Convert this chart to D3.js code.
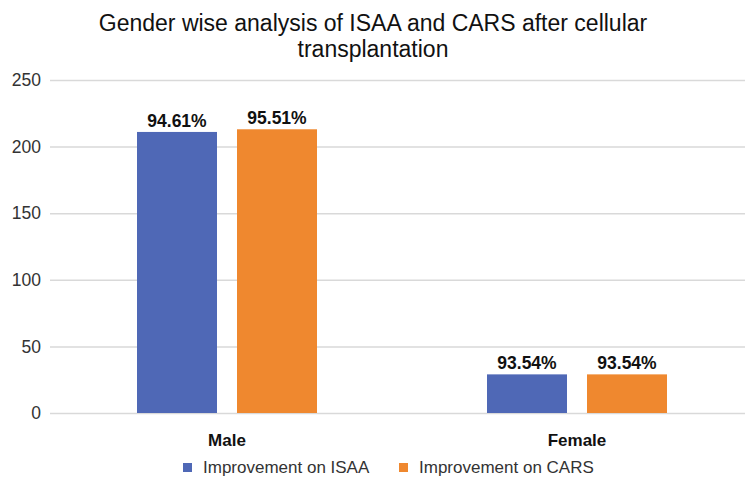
<!DOCTYPE html>
<html>
<head>
<meta charset="utf-8">
<script src="https://cdn.jsdelivr.net/npm/d3@7"></script>
<style>
  body { margin: 0; background: #fff; }
  text { font-family: "Liberation Sans", Arial, sans-serif; }
</style>
</head>
<body>
<svg width="745" height="487"></svg>
<script>
const categories = ["Male", "Female"];
const seriesNames = ["Improvement on ISAA", "Improvement on CARS"];
const isaaValues = [211, 29];
const carsValues = [213, 29];
const isaaLabels = ["94.61%", "93.54%"];
const carsLabels = ["95.51%", "93.54%"];
const yTicks = [0, 50, 100, 150, 200, 250];

const svg = d3.select("svg");
const width = +svg.attr("width");
const height = +svg.attr("height");

const colors = ["#4f68b6", "#ef882f"];

const data = categories.map((c, i) => ({
  category: c,
  values: [
    { key: seriesNames[0], value: isaaValues[i], label: isaaLabels[i] },
    { key: seriesNames[1], value: carsValues[i], label: carsLabels[i] }
  ]
}));

const yScale = d3.scaleLinear().domain([0, 250]).range([413, 80]);

const xScale = d3.scaleBand()
  .domain(categories)
  .range([52, 752]);

const xInner = d3.scaleBand()
  .domain(seriesNames)
  .range([0, xScale.bandwidth()])
  .paddingInner(0.2)
  .paddingOuter(0.85);

const colorScale = d3.scaleOrdinal().domain(seriesNames).range(colors);

// title
svg.append("text")
  .attr("x", 373)
  .attr("y", 31)
  .attr("text-anchor", "middle")
  .attr("font-size", 23)
  .attr("fill", "#111")
  .text("Gender wise analysis of ISAA and CARS after cellular");
svg.append("text")
  .attr("x", 373)
  .attr("y", 57)
  .attr("text-anchor", "middle")
  .attr("font-size", 23)
  .attr("fill", "#111")
  .text("transplantation");

// y axis with gridlines
const yAxis = d3.axisLeft(yScale)
  .tickValues(yTicks)
  .tickSize(-(745 - 50))
  .tickPadding(9);

const yAxisG = svg.append("g")
  .attr("transform", "translate(50,0)")
  .call(yAxis);
yAxisG.select(".domain").remove();
yAxisG.selectAll(".tick line").attr("stroke", "#d9d9d9").attr("stroke-width", 1.5);
yAxisG.selectAll(".tick text")
  .attr("font-size", 17.5)
  .attr("fill", "#333")
  .attr("font-family", "Liberation Sans, Arial, sans-serif");

// bars
const groups = svg.selectAll(".group")
  .data(data)
  .enter()
  .append("g")
  .attr("class", "group")
  .attr("transform", d => `translate(${xScale(d.category)},0)`);

groups.selectAll("rect")
  .data(d => d.values)
  .enter()
  .append("rect")
  .attr("x", d => xInner(d.key))
  .attr("y", d => yScale(d.value))
  .attr("width", xInner.bandwidth())
  .attr("height", d => yScale(0) - yScale(d.value))
  .attr("fill", d => colorScale(d.key));

groups.selectAll(".bar-label")
  .data(d => d.values)
  .enter()
  .append("text")
  .attr("class", "bar-label")
  .attr("x", d => xInner(d.key) + xInner.bandwidth() / 2)
  .attr("y", d => yScale(d.value) - 5)
  .attr("text-anchor", "middle")
  .attr("font-size", 17.5)
  .attr("font-weight", "bold")
  .attr("fill", "#111")
  .text(d => d.label);

// category labels
svg.selectAll(".cat-label")
  .data(categories)
  .enter()
  .append("text")
  .attr("class", "cat-label")
  .attr("x", d => xScale(d) + xScale.bandwidth() / 2)
  .attr("y", 446)
  .attr("text-anchor", "middle")
  .attr("font-size", 17)
  .attr("font-weight", "bold")
  .attr("fill", "#111")
  .text(d => d);

// legend
const legendX = [183, 399];
const legend = svg.selectAll(".legend")
  .data(seriesNames)
  .enter()
  .append("g")
  .attr("class", "legend")
  .attr("transform", (d, i) => `translate(${legendX[i]},467)`);

legend.append("rect")
  .attr("x", 0)
  .attr("y", -4)
  .attr("width", 9)
  .attr("height", 9)
  .attr("fill", d => colorScale(d));

legend.append("text")
  .attr("x", 20)
  .attr("y", 6)
  .attr("font-size", 17)
  .attr("fill", "#333")
  .text(d => d);
</script>
</body>
</html>
